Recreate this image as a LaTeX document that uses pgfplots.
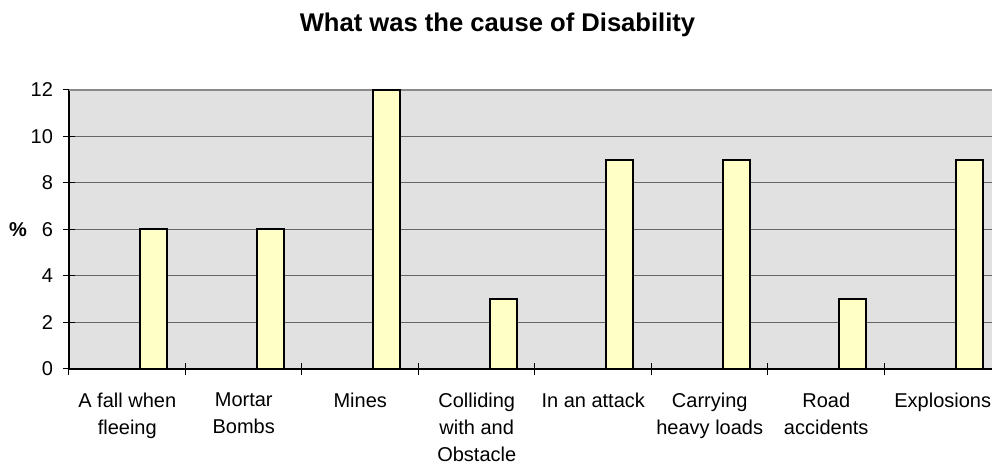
\documentclass[border=0pt]{standalone}
\usepackage{pgfplots}
\pgfplotsset{compat=1.18}
\usepackage{fontspec}
\setmainfont{Liberation Sans}
\definecolor{plotbg}{HTML}{E1E1E1}
\definecolor{barfill}{HTML}{FFFFC6}
\definecolor{gridc}{HTML}{666666}
\definecolor{topc}{HTML}{8A8A8A}
\begin{document}
\begin{tikzpicture}
\useasboundingbox (-34.5pt,-47.5pt) rectangle (461.5pt,184.5pt);
\clip (-34.5pt,-47.5pt) rectangle (461.5pt,184.5pt);
\begin{axis}[
  at={(0pt,0pt)}, anchor=south west,
  scale only axis,
  width=466pt, height=139.5pt,
  xmin=-0.5, xmax=7.5,
  ymin=0, ymax=12,
  clip=false,
  ytick={0,2,...,12},
  xtick={-0.5,0.5,...,7.5},
  x tick label as interval,
  xticklabels={A fall when\\fleeing, Mortar\\Bombs, Mines, Colliding\\with and\\Obstacle, In an attack, Carrying\\heavy loads, Road\\accidents, Explosions},
  xticklabel style={align=center, anchor=north, yshift=-5.5pt},
  yticklabel style={xshift=-1.5pt},
  ticklabel style={font=\fontsize{10}{13.4}\selectfont},
  /pgf/number format/assume math mode=true,
  tick align=center,
  major tick length=6pt,
  tick style={black, line width=0.5pt},
  axis x line*=bottom,
  axis y line*=left,
  axis line style={-, black, line width=0.9pt},
  axis background/.style={fill=plotbg},
  ymajorgrids=true,
  major grid style={gridc, line width=0.5pt},
]
\draw[topc, line width=1pt] (rel axis cs:0,1) -- (rel axis cs:1,1);
\addplot[ybar, bar width=0.232, bar shift=0.229, fill=barfill, draw=black, line width=1pt]
coordinates {
  (0,6)
  (1,6)
  (2,12)
  (3,3)
  (4,9)
  (5,9)
  (6,3)
  (7,9)
};
\end{axis}
\node[font=\bfseries\fontsize{12.8}{15}\selectfont, anchor=base] at (214.25pt,168.5pt) {What was the cause of Disability};
\node[font=\bfseries\fontsize{10}{12}\selectfont] at (-25.5pt,69.75pt) {\%};
\end{tikzpicture}
\end{document}
